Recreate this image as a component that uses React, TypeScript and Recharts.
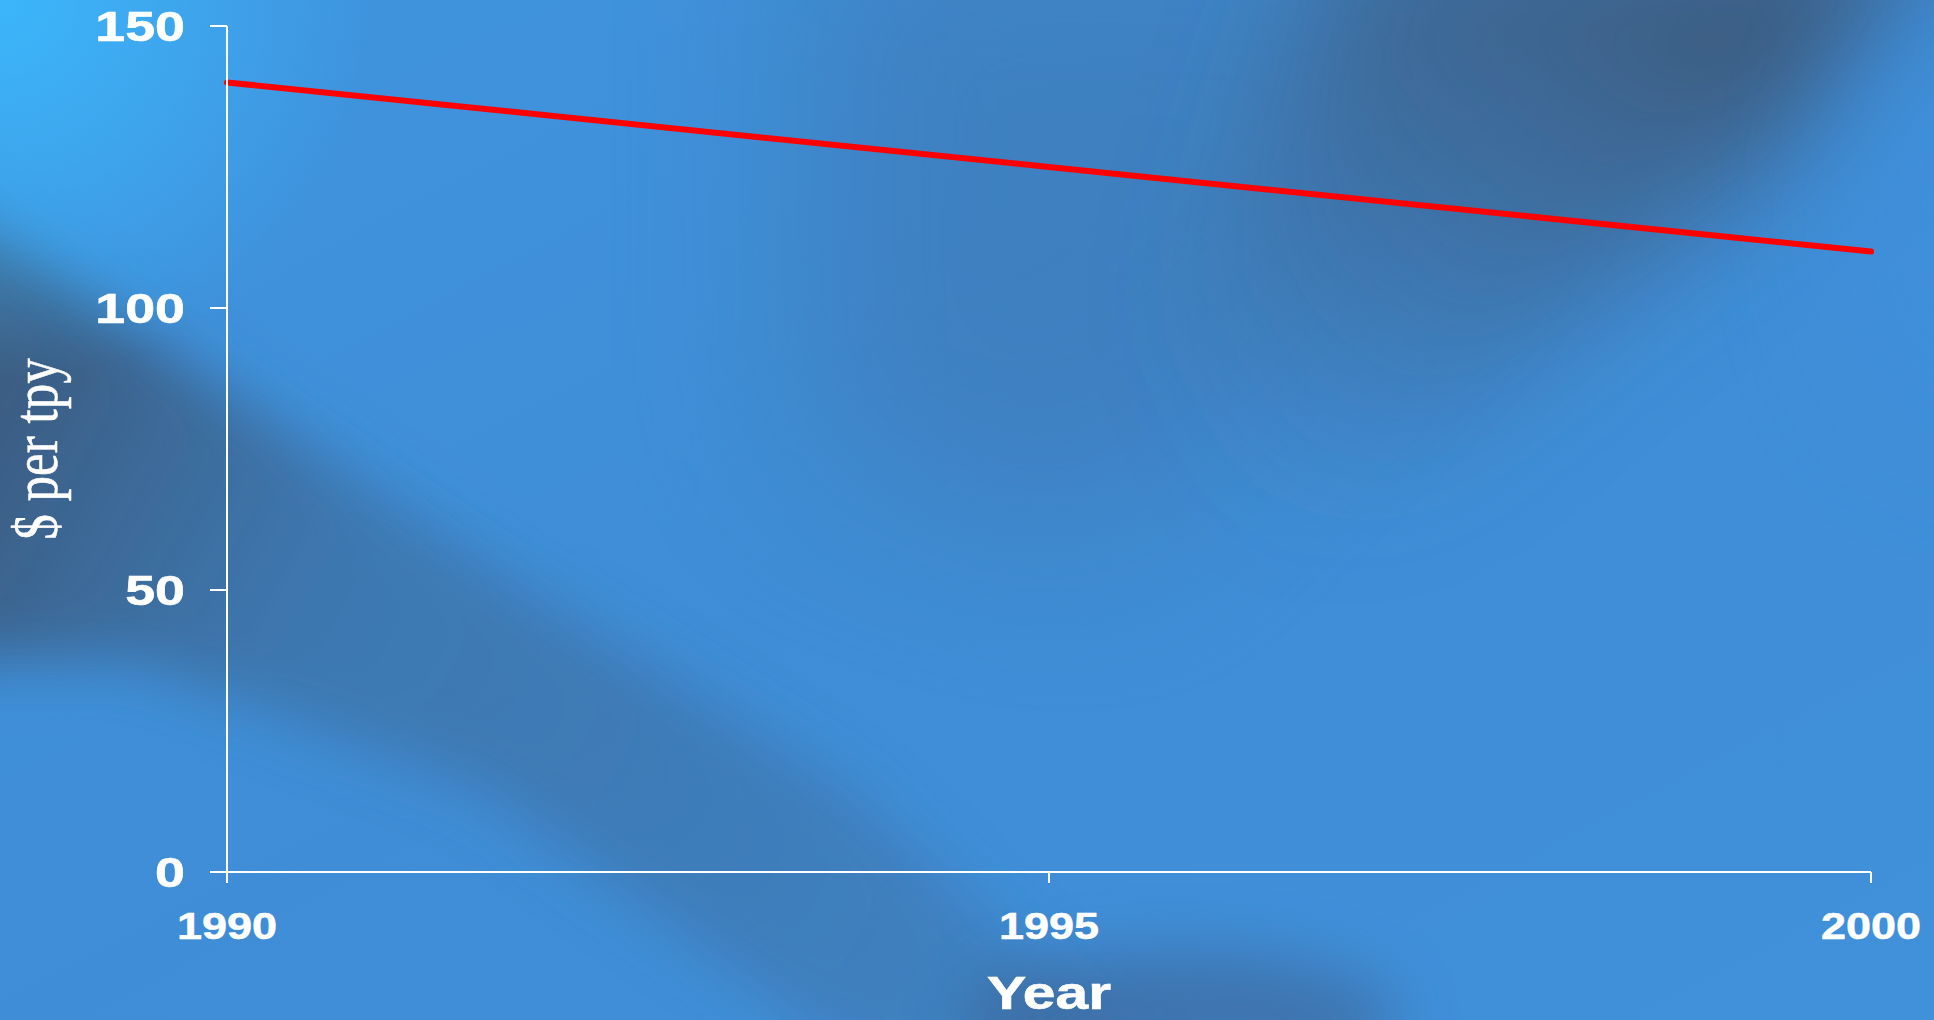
import React from "react";
import { LineChart, Line, XAxis, YAxis, Label } from "recharts";

const years = [1990, 1995, 2000];
const costPerTpy = [140, 125, 110];
const xTicks = [1990, 1995, 2000];
const yTicks = [0, 50, 100, 150];

const data = years.map((y, i) => ({ year: y, cost: costPerTpy[i] }));

const W = 1934;
const H = 1020;
const STRETCH = 1.25;

const YTick = (props: any) => {
  const { x, y, payload } = props;
  return (
    <text
      transform={`translate(${x},${y}) scale(${STRETCH},1)`}
      x={0}
      y={0}
      dy="0.355em"
      textAnchor="end"
      fill="#ffffff"
      stroke="#ffffff"
      strokeWidth={0.6}
      fontFamily="'Liberation Sans', Arial, sans-serif"
      fontWeight="bold"
      fontSize={43}
    >
      {payload.value}
    </text>
  );
};

const XTick = (props: any) => {
  const { x, y, payload } = props;
  return (
    <text
      transform={`translate(${x},${y}) scale(${STRETCH},1)`}
      x={0}
      y={0}
      dy="0.72em"
      textAnchor="middle"
      fill="#ffffff"
      stroke="#ffffff"
      strokeWidth={0.5}
      fontFamily="'Liberation Sans', Arial, sans-serif"
      fontWeight="bold"
      fontSize={36}
    >
      {payload.value}
    </text>
  );
};

const XLabel = (props: any) => {
  const vb = props.viewBox || {};
  const cx = (vb.x ?? 0) + (vb.width ?? 0) / 2;
  const by = (vb.y ?? 0) + 137;
  return (
    <text
      transform={`translate(${cx},${by}) scale(${STRETCH},1)`}
      x={0}
      y={0}
      textAnchor="middle"
      fill="#ffffff"
      stroke="#ffffff"
      strokeWidth={0.6}
      fontFamily="'Liberation Sans', Arial, sans-serif"
      fontWeight="bold"
      fontSize={47}
    >
      Year
    </text>
  );
};

const YLabel = (props: any) => {
  const vb = props.viewBox || {};
  const cx = (vb.x ?? 0) + 57;
  const cy = (vb.y ?? 0) + (vb.height ?? 0) / 2;
  return (
    <text
      transform={`translate(${cx},${cy}) rotate(-90) scale(1,${STRETCH})`}
      x={0}
      y={0}
      textAnchor="middle"
      fill="#ffffff"
      stroke="#ffffff"
      strokeWidth={0.4}
      fontFamily="'Liberation Serif', 'Times New Roman', serif"
      fontSize={51}
    >
      $ per tpy
    </text>
  );
};

const Background = () => (
  <svg width={W} height={H} style={{ position: "absolute", left: 0, top: 0 }}>
    <defs>
      <linearGradient id="base" x1="0" y1="0" x2="1" y2="1">
        <stop offset="0%" stopColor="#3f94de" />
        <stop offset="50%" stopColor="#3f8dd6" />
        <stop offset="100%" stopColor="#4090da" />
      </linearGradient>
      <radialGradient id="tl" cx="0" cy="0" r="380" gradientUnits="userSpaceOnUse">
        <stop offset="0%" stopColor="#3cb6fb" stopOpacity="1" />
        <stop offset="100%" stopColor="#3cb6fb" stopOpacity="0" />
      </radialGradient>
      <linearGradient id="bandFade" gradientUnits="userSpaceOnUse" x1="0" y1="400" x2="1100" y2="1000">
        <stop offset="0%" stopColor="#3b5a7e" stopOpacity="0.95" />
        <stop offset="30%" stopColor="#3c6590" stopOpacity="0.55" />
        <stop offset="100%" stopColor="#3d6a9a" stopOpacity="0.35" />
      </linearGradient>
      <linearGradient id="trFade" gradientUnits="userSpaceOnUse" x1="1700" y1="0" x2="1250" y2="500">
        <stop offset="0%" stopColor="#3d5a7c" stopOpacity="0.95" />
        <stop offset="45%" stopColor="#3d5f86" stopOpacity="0.6" />
        <stop offset="100%" stopColor="#3d6a9a" stopOpacity="0" />
      </linearGradient>
      <filter id="blur60" x="-50%" y="-50%" width="200%" height="200%">
        <feGaussianBlur stdDeviation="60" />
      </filter>
      <filter id="blur35" x="-50%" y="-50%" width="200%" height="200%">
        <feGaussianBlur stdDeviation="30" />
      </filter>
      <filter id="blur90" x="-50%" y="-50%" width="200%" height="200%">
        <feGaussianBlur stdDeviation="90" />
      </filter>
    </defs>
    <rect x={0} y={0} width={W} height={H} fill="url(#base)" />
    {/* general mid-tone darkening in upper middle/right */}
    <polygon
      points="800,-100 1600,-100 1400,250 1100,550 800,450"
      fill="#3d6fa4"
      opacity={0.45}
      filter="url(#blur90)"
    />
    {/* left diagonal dark band, fading toward lower right */}
    <polygon
      points="-150,130 120,320 480,560 850,790 1150,1060 880,1080 480,790 130,660 -150,660"
      fill="url(#bandFade)"
      filter="url(#blur35)"
    />
    {/* upper right dark */}
    <polygon
      points="1350,-80 1960,-80 1820,120 1600,300 1420,470 1250,520 1200,300"
      fill="url(#trFade)"
      filter="url(#blur60)"
    />
    {/* lighter upper-right corner edge */}
    <ellipse cx={1960} cy={220} rx={120} ry={220} fill="#4090dc" opacity={0.7} filter="url(#blur60)" />
    {/* bottom center shade */}
    <ellipse cx={1180} cy={1020} rx={220} ry={70} fill="#3d6090" opacity={0.55} filter="url(#blur35)" />
    <rect x={0} y={0} width={W} height={H} fill="url(#tl)" />
  </svg>
);

export default function App() {
  return (
    <div style={{ position: "absolute", left: 0, top: 0, width: W, height: H, overflow: "hidden" }}>
      <Background />
      <div style={{ position: "absolute", left: 0, top: 0 }}>
        <LineChart width={W} height={H} data={data} margin={{ top: 26, right: 63, left: 0, bottom: 0 }}>
          <XAxis
            dataKey="year"
            type="number"
            domain={[1990, 2000]}
            ticks={xTicks}
            height={148}
            stroke="#ffffff"
            strokeWidth={2}
            tickSize={11}
            tickMargin={30}
            tick={<XTick />}
            interval={0}
          >
            <Label content={<XLabel />} />
          </XAxis>
          <YAxis
            type="number"
            domain={[0, 150]}
            ticks={yTicks}
            width={227}
            stroke="#ffffff"
            strokeWidth={2}
            tickSize={17}
            tickMargin={25}
            tick={<YTick />}
            interval={0}
          >
            <Label content={<YLabel />} />
          </YAxis>
          <Line
            dataKey="cost"
            stroke="#ff0000"
            strokeWidth={6}
            strokeLinecap="round"
            dot={false}
            activeDot={false}
            isAnimationActive={false}
          />
        </LineChart>
      </div>
    </div>
  );
}
